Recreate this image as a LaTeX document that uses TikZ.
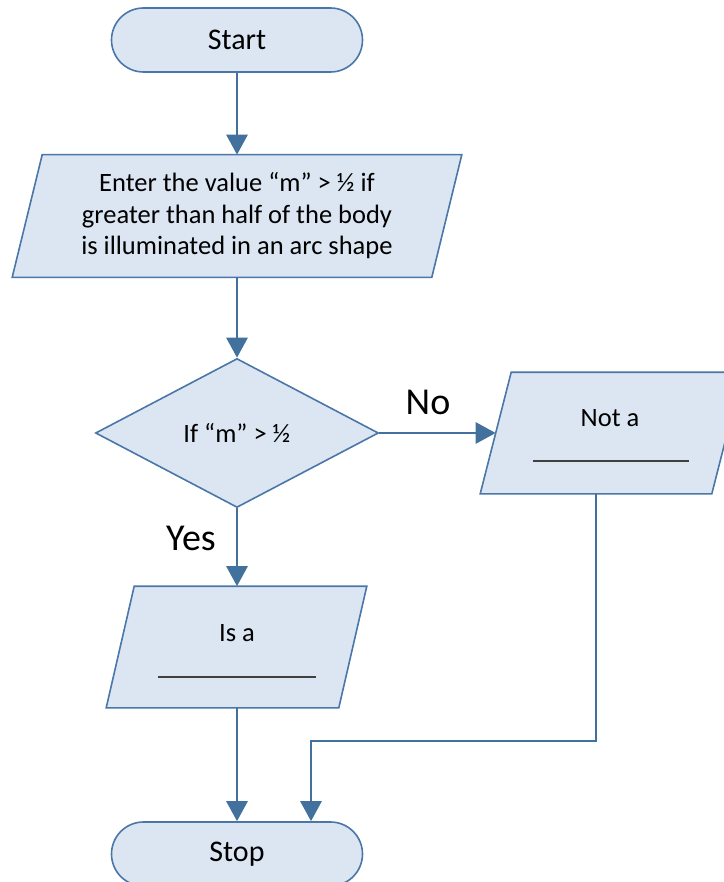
\documentclass[tikz,border=0pt]{standalone}
\usepackage{fontspec}
\setmainfont{Carlito}
\usetikzlibrary{shapes.geometric,arrows.meta,backgrounds}
\definecolor{boxfill}{HTML}{DCE6F2}
\definecolor{boxline}{HTML}{4A77A8}
\definecolor{connc}{HTML}{41719C}
\definecolor{blankc}{HTML}{404040}
\newcommand\drawpara[2]{%
  \path[shapeline] ([xshift=-#2]#1.south west) -- ([xshift=#2]#1.north west) --
    ([xshift=#2]#1.north east) -- ([xshift=-#2]#1.south east) -- cycle;}
\begin{document}
\begin{tikzpicture}[x=1pt,y=1pt,
  shapeline/.style={draw=boxline, line width=1.6pt, fill=boxfill},
  base/.style={shapeline, text=black, font=\fontsize{26.5}{31.5}\selectfont},
  term/.style={base, rectangle, rounded corners=32pt, minimum width=251pt, minimum height=64pt, font=\fontsize{30}{36}\selectfont},
  io/.style={rectangle, inner sep=0pt, outer sep=0.8pt, minimum height=120pt, text=black, font=\fontsize{26.5}{31.5}\selectfont},
  decision/.style={base, diamond, inner sep=0pt, minimum width=283pt, minimum height=149pt},
  flow/.style={draw=connc, line width=2.8pt, -{Triangle[width=21pt,length=20pt]}},
  lbl/.style={font=\fontsize{38}{44}\selectfont, text=black},
  txt/.style={font=\fontsize{26.5}{31.5}\selectfont, text=black},
  blankline/.style={draw=blankc, line width=1.6pt}
]
\useasboundingbox (0,0) rectangle (723,-882);
\node[term] (start) at (237,-40) {Start};
\node[io, minimum width=418pt, minimum height=121pt, align=center] (input) at (237,-216) {Enter the value “m” > ½ if\\greater than half of the body\\is illuminated in an arc shape};
\node[decision] (dec) at (237,-433) {If “m” > ½};
\node[io, minimum width=230pt] (nota) at (611.5,-433) {};
\node[txt] (notatext) at (610,-418) {Not a};
\node[io, minimum width=231pt] (isa) at (236.5,-647) {};
\node[txt] (isatext) at (237,-633) {Is a};
\node[term] (stop) at (237,-854) {Stop};
\node[lbl] (no) at (428,-402) {No};
\node[lbl] (yes) at (191,-538) {Yes};
\coordinate (bend) at (311,-741);
\begin{scope}[on background layer]
  \drawpara{input}{15pt}
  \drawpara{nota}{15.5pt}
  \drawpara{isa}{14pt}
\end{scope}
\draw[blankline] (533,-461) -- (689,-461);
\draw[blankline] (158,-677) -- (316,-677);

\draw[flow] (start.south) -- (input.north);
\draw[flow] (input.south) -- (dec.north);
\draw[flow] (dec.east) -- (nota.west);
\draw[flow] (dec.south) -- (dec.south |- isa.north);
\draw[flow] (stop.north |- isa.south) -- (stop.north);
\draw[flow] ([xshift=-15.5pt]nota.south) |- (bend) -- (bend |- stop.north);
\end{tikzpicture}
\end{document}
